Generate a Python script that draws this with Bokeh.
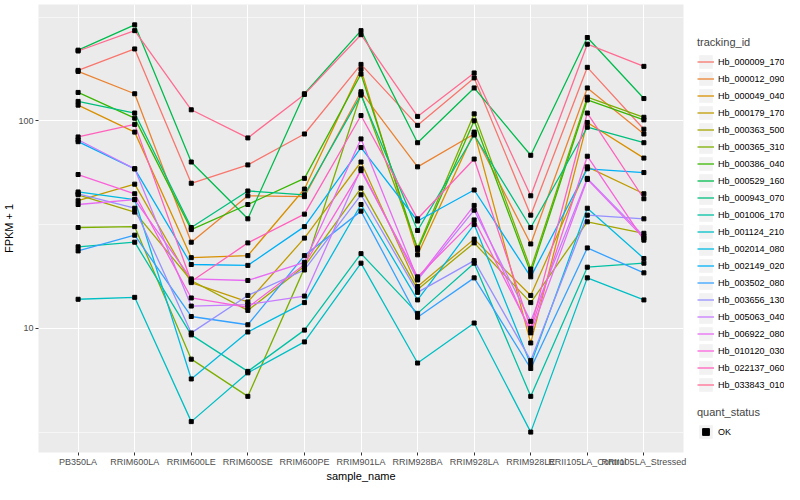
from bokeh.plotting import figure
from bokeh.models import (FactorRange, Range1d, FixedTicker, Legend, LegendItem,
                          BasicTickFormatter)
from bokeh.layouts import row
from bokeh.embed import file_html
from bokeh.resources import INLINE

samples = ["PB350LA", "RRIM600LA", "RRIM600LE", "RRIM600SE", "RRIM600PE",
           "RRIM901LA", "RRIM928BA", "RRIM928LA", "RRIM928LE",
           "RRII105LA_Control", "RRII105LA_Stressed"]

tracking_ids = ["Hb_000009_170", "Hb_000012_090", "Hb_000049_040", "Hb_000179_170",
                "Hb_000363_500", "Hb_000365_310", "Hb_000386_040", "Hb_000529_160",
                "Hb_000943_070", "Hb_001006_170", "Hb_001124_210", "Hb_002014_080",
                "Hb_002149_020", "Hb_003502_080", "Hb_003656_130", "Hb_005063_040",
                "Hb_006922_080", "Hb_010120_030", "Hb_022137_060", "Hb_033843_010"]

# FPKM + 1 per sample
hb_000009_170 = [175, 222, 50.0, 61.3, 86.4, 187, 95.1, 161, 35.1, 181, 91.1]
hb_000012_090 = [173, 135, 26.0, 43.5, 43.1, 138, 60.0, 86.4, 25.5, 144, 86.4]
hb_000049_040 = [119, 88.2, 21.9, 22.4, 46.9, 177, 22.6, 88.2, 8.5, 98.2, 66.1]
hb_000179_170 = [41.2, 49.5, 16.6, 13.4, 27.2, 63.3, 15.9, 26.9, 14.4, 60.0, 44.5]
hb_000363_500 = [44.0, 36.3, 17.0, 12.2, 19.9, 47.4, 15.4, 25.8, 13.3, 32.6, 28.7]
hb_000365_310 = [30.6, 30.9, 7.1, 4.7, 19.5, 135, 24.4, 108, 19.3, 130, 104]
hb_000386_040 = [137, 103, 29.9, 39.5, 52.8, 168, 23.9, 100, 18.5, 126, 101]
hb_000529_160 = [219, 290, 63.3, 33.7, 135, 272, 78.4, 144, 68.2, 252, 128]
hb_000943_070 = [124, 109, 30.6, 45.9, 44.0, 133, 29.6, 85.4, 30.6, 93.1, 78.4]
hb_001006_170 = [24.7, 26.0, 9.3, 6.2, 9.8, 22.9, 11.8, 20.6, 4.7, 19.7, 20.6]
hb_001124_210 = [13.8, 14.1, 3.55, 6.1, 8.6, 20.6, 6.8, 10.6, 3.16, 17.5, 13.7]
hb_002014_080 = [45.4, 41.7, 5.7, 9.6, 13.3, 39.5, 13.7, 31.6, 6.7, 37.9, 21.7]
hb_002149_020 = [79.3, 58.7, 20.3, 20.1, 30.9, 74.3, 32.9, 46.4, 17.7, 58.7, 56.3]
hb_003502_080 = [23.6, 28.1, 11.4, 10.4, 22.4, 36.7, 11.3, 17.5, 6.4, 24.4, 18.5]
hb_003656_130 = [44.5, 37.9, 9.5, 14.4, 19.1, 44.0, 14.9, 21.2, 7.0, 35.1, 33.7]
hb_005063_040 = [81.0, 58.7, 12.8, 13.0, 14.3, 58.7, 17.1, 37.1, 10.8, 52.8, 27.8]
hb_006922_080 = [39.5, 41.7, 17.3, 17.0, 20.8, 81.8, 17.3, 39.1, 9.5, 52.2, 27.2]
hb_010120_030 = [55.1, 44.5, 14.0, 12.6, 20.3, 57.5, 17.7, 33.3, 9.8, 67.5, 26.6]
hb_022137_060 = [83.6, 96.1, 16.8, 25.8, 35.5, 106, 33.7, 65.4, 10.0, 109, 42.1]
hb_033843_010 = [217, 272, 113, 82.7, 134, 260, 105, 170, 43.5, 234, 183]

series = [hb_000009_170, hb_000012_090, hb_000049_040, hb_000179_170, hb_000363_500,
          hb_000365_310, hb_000386_040, hb_000529_160, hb_000943_070, hb_001006_170,
          hb_001124_210, hb_002014_080, hb_002149_020, hb_003502_080, hb_003656_130,
          hb_005063_040, hb_006922_080, hb_010120_030, hb_022137_060, hb_033843_010]

quant_status = ["OK"]

colors = ["#F8766D", "#EA8331", "#D89000", "#C09B00", "#A3A500", "#7CAE00", "#39B600",
          "#00BB4E", "#00BF7D", "#00C1A3", "#00BFC4", "#00BAE0", "#00B0F6", "#35A2FF",
          "#9590FF", "#C77CFF", "#E76BF3", "#FA62DB", "#FF62BC", "#FF6C91"]

FONT = "Liberation Sans"
NAN = float("nan")

p = figure(width=691, height=484,
           x_range=FactorRange(*samples, range_padding=0.2, range_padding_units="absolute"),
           y_axis_type="log", y_range=Range1d(2.52, 363.5),
           output_backend="svg", toolbar_location=None,
           min_border_left=0, min_border_right=8, min_border_top=4, min_border_bottom=0)
p.background_fill_color = "#EBEBEB"
p.border_fill_color = "white"
p.outline_line_color = None

p.xgrid.grid_line_color = "white"
p.xgrid.grid_line_width = 1.1
p.ygrid.grid_line_color = "white"
p.ygrid.grid_line_width = 1.1
p.ygrid.minor_grid_line_color = "white"
p.ygrid.minor_grid_line_width = 0.55

p.yaxis.ticker = FixedTicker(ticks=[10, 100], minor_ticks=[10 ** 0.5, 10 ** 1.5, 10 ** 2.5])
p.yaxis.formatter = BasicTickFormatter()

for ax in (p.xaxis[0], p.yaxis[0]):
    ax.axis_line_color = None
    ax.major_tick_line_color = "#333333"
    ax.major_tick_out = 3
    ax.major_tick_in = 0
    ax.minor_tick_line_color = None
    ax.major_label_text_font = FONT
    ax.major_label_text_font_size = "9px"
    ax.major_label_text_color = "#4D4D4D"
    ax.axis_label_text_font = FONT
    ax.axis_label_text_font_size = "11px"
    ax.axis_label_text_font_style = "normal"
    ax.axis_label_text_color = "black"
    ax.major_label_standoff = 1
    ax.axis_label_standoff = 0

p.xaxis.axis_label = "sample_name"
p.yaxis.axis_label = "FPKM + 1"

for vals, col in zip(series, colors):
    p.line(x=samples, y=vals, line_color=col, line_width=1.3)
for vals in series:
    p.scatter(x=samples, y=vals, marker="square", size=4, color="black")

# legend panel (keys only; no visible data marks)
leg = figure(width=93, height=484, output_backend="svg", toolbar_location=None,
             x_range=Range1d(0, 1), y_range=Range1d(0, 1),
             x_axis_location=None, y_axis_location=None, min_border=0)
leg.outline_line_color = None
leg.grid.visible = False

bg = leg.rect(x=[NAN], y=[NAN], width=1, height=1, fill_color="#F2F2F2", line_color=None)
items = []
for name, col in zip(tracking_ids, colors):
    ln = leg.line(x=[NAN], y=[NAN], line_color=col, line_width=1.3)
    items.append(LegendItem(label=name, renderers=[bg, ln]))

common = dict(title_text_font=FONT, title_text_font_size="11px", title_text_font_style="normal",
              label_text_font=FONT, label_text_font_size="9px", label_text_color="black",
              glyph_width=17, glyph_height=17, label_height=17, label_standoff=4,
              spacing=0, padding=0, margin=0, background_fill_alpha=0,
              border_line_color=None, title_standoff=5)

legend1 = Legend(items=items, location=(6, 59), title="tracking_id", **common)
leg.add_layout(legend1)

ok = leg.scatter(x=[NAN], y=[NAN], marker="square", size=4, color="black")
legend2 = Legend(items=[LegendItem(label=quant_status[0], renderers=[bg, ok])],
                 location=(6, 12), title="quant_status", **common)
leg.add_layout(legend2)

layout = row(p, leg)
open("out.html", "w").write(file_html(layout, INLINE))
